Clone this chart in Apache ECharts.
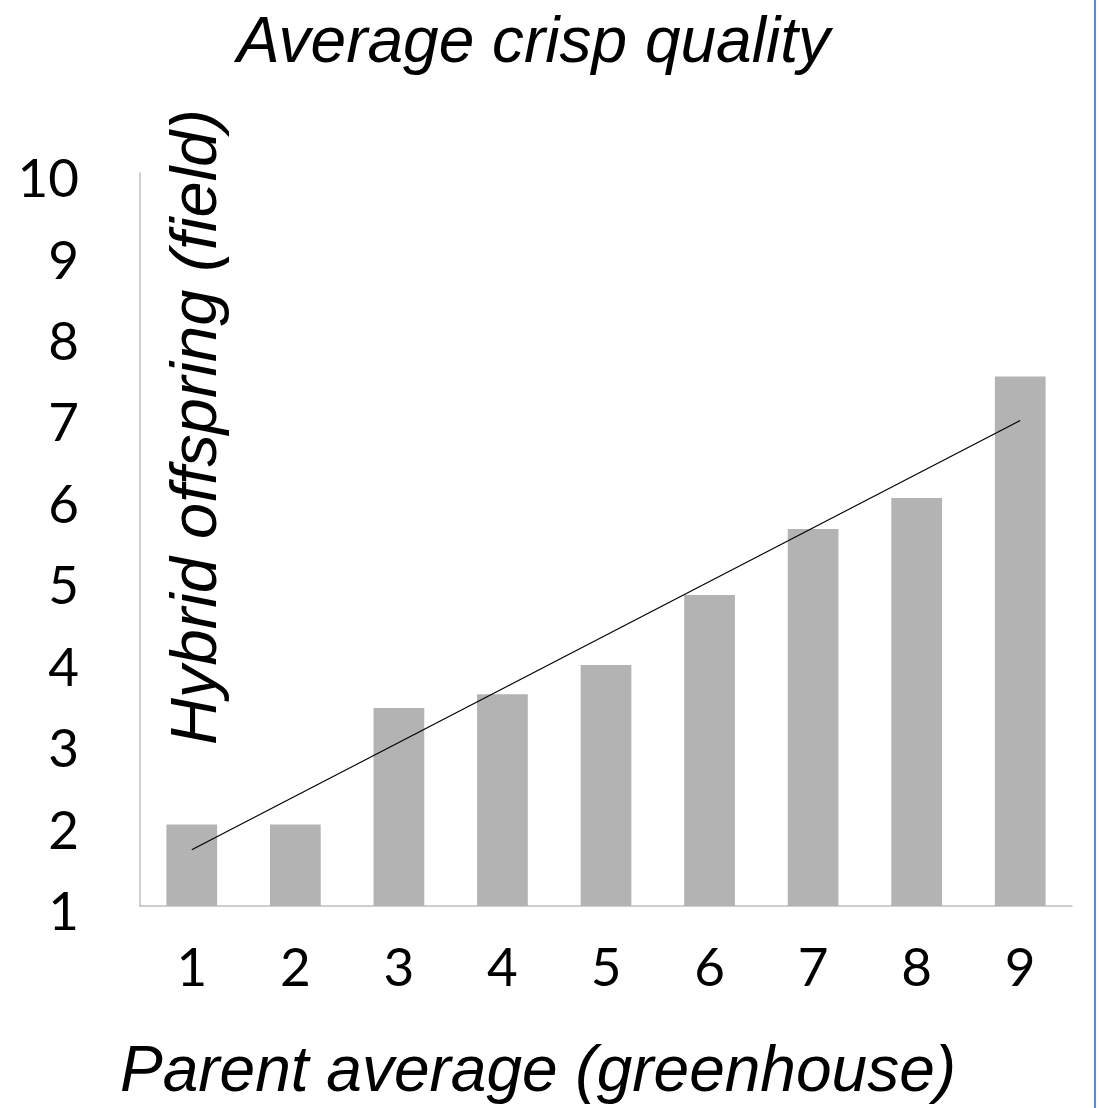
<!DOCTYPE html>
<html>
<head>
<meta charset="utf-8">
<script src="https://cdn.jsdelivr.net/npm/echarts@6/dist/echarts.min.js"></script>
<style>
  html, body { margin: 0; padding: 0; background: #fff; }
  #main { width: 1099px; height: 1108px; }
</style>
</head>
<body>
<div id="main"></div>
<script>
// данные графика
let categories = ['1', '2', '3', '4', '5', '6', '7', '8', '9'];
let crispValues = [2.0, 2.0, 3.43, 3.6, 3.96, 4.82, 5.63, 6.01, 7.5];
// линия тренда: только концы, середина соединяется
let trendValues = [1.69, null, null, null, null, null, null, null, 6.96];
let yTicks = [1, 10, 1]; // min, max, шаг

let chart = echarts.init(document.getElementById('main'));

chart.setOption({
    animation: false,
    title: {
        text: 'Average crisp quality',
        left: 232,
        top: 7,
        textStyle: {
            fontFamily: 'Liberation Sans, Arial, sans-serif',
            fontStyle: 'italic',
            fontWeight: 'normal',
            fontSize: 64,
            color: '#000'
        }
    },
    grid: {
        left: 140,
        right: 27,
        top: 173,
        bottom: 202
    },
    xAxis: {
        type: 'category',
        data: categories,
        axisLine: { lineStyle: { color: '#bfbfbf', width: 1.5 } },
        axisTick: { show: false },
        axisLabel: {
            margin: 36,
            fontFamily: 'Lato, sans-serif',
            fontSize: 53,
            color: '#000'
        }
    },
    yAxis: {
        type: 'value',
        min: yTicks[0],
        max: yTicks[1],
        interval: yTicks[2],
        splitLine: { show: false },
        axisLine: { show: true, lineStyle: { color: '#bfbfbf', width: 1.5 } },
        axisTick: { show: false },
        axisLabel: {
            margin: 61,
            verticalAlign: 'top',
            lineHeight: 14,
            fontFamily: 'Lato, sans-serif',
            fontSize: 53,
            color: '#000'
        }
    },
    series: [
        {
            name: 'Hybrid offspring',
            type: 'bar',
            data: crispValues,
            barWidth: '49%',
            itemStyle: { color: '#b3b3b3' }
        },
        {
            name: 'Trend',
            type: 'line',
            data: trendValues,
            connectNulls: true,
            symbol: 'none',
            lineStyle: { color: '#000', width: 1.2 }
        }
    ],
    graphic: [
        {
            type: 'text',
            x: 198,
            y: 427,
            rotation: Math.PI / 2,
            style: {
                text: 'Hybrid offspring (field)',
                fontFamily: 'Liberation Sans, Arial, sans-serif',
                fontStyle: 'italic',
                fontSize: 65,
                fill: '#000',
                align: 'center',
                verticalAlign: 'middle'
            }
        },
        {
            type: 'text',
            x: 538,
            y: 1073,
            style: {
                text: 'Parent average (greenhouse)',
                fontFamily: 'Liberation Sans, Arial, sans-serif',
                fontStyle: 'italic',
                fontSize: 64,
                fill: '#000',
                align: 'center',
                verticalAlign: 'middle'
            }
        },
        {
            // синяя рамка справа
            type: 'rect',
            shape: { x: 1094, y: 0, width: 2, height: 1108 },
            style: { fill: '#5b8ad8' }
        }
    ]
});
</script>
</body>
</html>
